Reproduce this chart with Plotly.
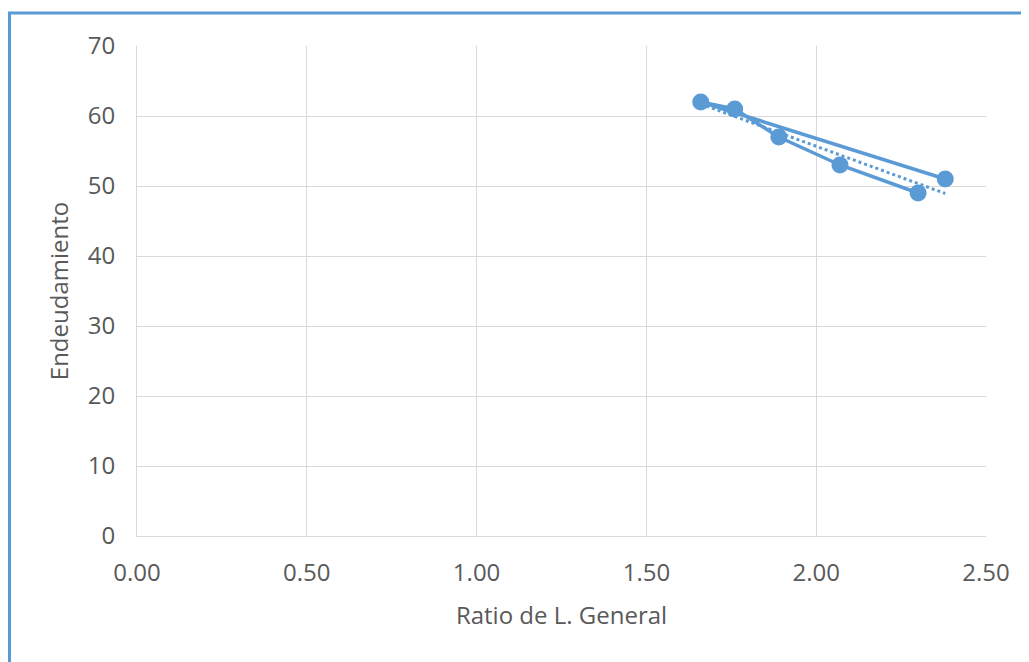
import numpy as np
import plotly.graph_objects as go

ratio_general = [2.38, 1.66, 1.76, 1.89, 2.07, 2.30]
endeudamiento = [51, 62, 61, 57, 53, 49]

x_ticks = [0.0, 0.5, 1.0, 1.5, 2.0, 2.5]
x_tick_labels = ["0.00", "0.50", "1.00", "1.50", "2.00", "2.50"]
y_ticks = [0, 10, 20, 30, 40, 50, 60, 70]

color = "#5b9bd5"
font = "Open Sans"

slope, intercept = np.polyfit(ratio_general, endeudamiento, 1)
tx = [min(ratio_general), max(ratio_general)]
ty = [slope * v + intercept for v in tx]

fig = go.Figure()
fig.add_trace(go.Scatter(
    x=ratio_general, y=endeudamiento, mode="lines+markers",
    line=dict(color=color, width=3.5),
    marker=dict(color=color, size=17),
    showlegend=False,
))
fig.add_trace(go.Scatter(
    x=tx, y=ty, mode="lines",
    line=dict(color=color, width=3, dash="dot"),
    showlegend=False,
))

# page body has an 8px margin, so offsets are compensated
OFF = 8
L, R, T, B = 137 - OFF, 43, 46 - OFF, 126
pw, ph = 849, 490
W, H = L + pw + R, T + ph + B

fig.add_shape(type="rect", xref="paper", yref="paper",
              x0=(1.5 - L) / pw, x1=(W + 40 - L) / pw,
              y0=-(B + 40) / ph, y1=1 + (T - (13 - OFF)) / ph,
              line=dict(color=color, width=3), fillcolor="rgba(0,0,0,0)", layer="below")

fig.update_layout(
    width=W, height=H,
    margin=dict(l=L, r=R, t=T, b=B),
    paper_bgcolor="white", plot_bgcolor="white",
    font=dict(family=font, color="#595959", size=24),
    xaxis=dict(range=[0, 2.5], tickvals=x_ticks, ticktext=x_tick_labels,
               showgrid=True, gridcolor="#d9d9d9", gridwidth=1,
               showline=True, linecolor="#d9d9d9", linewidth=1,
               zeroline=False, ticks="", ticklen=0, ticklabelstandoff=15,
               title=dict(text="Ratio de L. General", standoff=20,
                          font=dict(size=24, color="#595959")),
               tickfont=dict(size=24, color="#595959")),
    yaxis=dict(range=[0, 70], tickvals=y_ticks,
               showgrid=True, gridcolor="#d9d9d9", gridwidth=1,
               showline=True, linecolor="#d9d9d9", linewidth=1,
               zeroline=False, ticks="", ticklen=0, ticklabelstandoff=16,
               title=dict(text="Endeudamiento", standoff=12,
                          font=dict(size=24, color="#595959")),
               tickfont=dict(size=24, color="#595959")),
)

fig.write_html("out.html")
